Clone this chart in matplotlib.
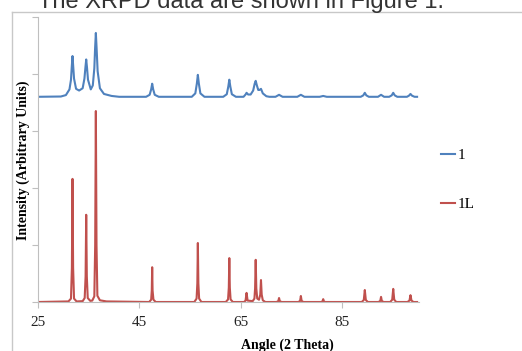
import matplotlib
matplotlib.use("Agg")
import matplotlib.pyplot as plt
from matplotlib.lines import Line2D

# sample 1L (red), vertices
angle_1L = [25.0, 31.0, 31.5, 31.68, 31.8, 31.92, 32.1, 32.6,
            33.8, 34.2, 34.38, 34.5, 34.62, 34.8, 35.3,
            35.7, 36.1, 36.27, 36.4, 36.53, 36.7, 37.2, 38.5,
            46.9, 47.3, 47.42, 47.5, 47.58, 47.75, 48.2,
            55.8, 56.25, 56.4, 56.5, 56.6, 56.75, 57.2,
            62.0, 62.45, 62.6, 62.7, 62.8, 62.95, 63.4,
            65.6, 65.9, 66.1, 66.3, 67.3, 67.65, 67.78, 67.9, 68.02, 68.2,
            68.55, 68.8, 68.94, 69.08, 69.3, 69.8,
            72.0, 72.35, 72.5, 72.65, 73.0,
            76.3, 76.65, 76.8, 76.95, 77.3,
            80.8, 81.05, 81.2, 81.35, 81.6,
            88.8, 89.2, 89.4, 89.6, 90.0,
            92.1, 92.45, 92.6, 92.75, 93.1,
            94.4, 94.8, 95.0, 95.2, 95.6,
            97.8, 98.2, 98.4, 98.6, 99.0, 99.7]
int_1L = [0, 10, 60, 600, 2160, 600, 60, 10,
          15, 70, 450, 1530, 450, 70, 20,
          25, 100, 1000, 3350, 1000, 110, 30, 10,
          0, 40, 200, 610, 200, 40, 0,
          0, 60, 330, 1035, 330, 60, 0,
          0, 45, 250, 770, 250, 45, 0,
          0, 25, 160, 25, 15, 60, 240, 740, 240, 60,
          40, 130, 385, 130, 30, 0,
          0, 15, 70, 15, 0,
          0, 20, 105, 20, 0,
          0, 10, 50, 10, 0,
          0, 35, 210, 35, 0,
          0, 20, 90, 20, 0,
          0, 40, 230, 40, 0,
          0, 25, 120, 25, 0, 0]

# sample 1 (blue), drawn above 1L
offset_1 = 3600
angle_1 = [25.0, 29.5, 30.5, 31.2, 31.5, 31.65, 31.8, 31.95, 32.1, 32.5,
           33.1, 33.8, 34.15, 34.35, 34.5, 34.65, 34.85, 35.4,
           35.8, 36.1, 36.25, 36.4, 36.55, 36.75, 37.2, 38.0, 39.5, 41.0,
           46.3, 47.0, 47.3, 47.5, 47.7, 48.0, 48.8,
           55.3, 56.0, 56.3, 56.5, 56.7, 57.0, 57.8,
           61.5, 62.2, 62.5, 62.7, 62.9, 63.2, 64.0,
           65.5, 65.9, 66.1, 66.4, 66.9, 67.4, 67.7, 67.9, 68.1, 68.4,
           68.65, 68.94, 69.3, 70.0, 70.6,
           71.8, 72.5, 73.2,
           76.1, 76.8, 77.5,
           80.5, 81.2, 81.9,
           88.6, 89.1, 89.4, 89.7, 90.2,
           92.0, 92.6, 93.2,
           94.2, 94.7, 95.0, 95.3, 95.8,
           97.7, 98.1, 98.4, 98.7, 99.2, 99.7]
int_1 = [0, 5, 30, 130, 300, 520, 715, 520, 320, 140,
         110, 150, 320, 520, 655, 520, 300, 130,
         200, 500, 850, 1120, 850, 450, 150, 50, 15, 0,
         0, 35, 130, 230, 130, 35, 0,
         0, 60, 230, 385, 230, 60, 0,
         0, 45, 180, 300, 180, 45, 0,
         0, 40, 70, 40, 40, 110, 230, 280, 210, 120,
         120, 140, 60, 10, 0,
         0, 35, 0,
         0, 35, 0,
         0, 15, 0,
         0, 25, 70, 25, 0,
         0, 35, 0,
         0, 25, 70, 25, 0,
         0, 20, 50, 20, 0, 0]

x_ticks = [25, 45, 65, 85]
blue = "#4F81BD"
red = "#C0504D"
grey = "#BFBFBF"

plt.rcParams["font.family"] = ["Liberation Serif", "DejaVu Serif"]

fig = plt.figure(figsize=(5.22, 3.51), dpi=100)
ax = fig.add_axes([38 / 522, 1 - 302 / 351, (418.6 - 38) / 522, (302 - 17) / 351])

ax.plot(angle_1, [v + offset_1 for v in int_1], color=blue, lw=1.5)
ax.plot(angle_1L, int_1L, color=red, lw=1.5)

ax.set_xlim(25, 100)
ax.set_ylim(0, 5000)
ax.set_xticks(x_ticks)
ax.set_xticklabels([str(t) for t in x_ticks], fontsize=11)
ax.set_yticks(range(0, 5001, 1000))
ax.set_yticklabels([])
ax.tick_params(axis="both", color=grey, length=4, width=0.8, pad=6, labelcolor="#222222")
for s in ("top", "right"):
    ax.spines[s].set_visible(False)
for s in ("left", "bottom"):
    ax.spines[s].set_color(grey)
    ax.spines[s].set_linewidth(0.8)

fig.text(287 / 522, 1 - 345 / 351, "Angle (2 Theta)", ha="center", va="center",
         fontsize=10, fontweight="bold")
fig.text(23 / 522, 1 - 160 / 351, "Intensity (Arbitrary Units)", ha="center", va="center",
         rotation=90, fontsize=10, fontweight="bold")

handles = [Line2D([], [], color=blue, lw=1.5), Line2D([], [], color=red, lw=1.5)]
fig.legend(handles, ["1", "1L"], loc="center left", bbox_to_anchor=(427 / 522, 1 - 180 / 351),
           frameon=False, fontsize=11, handlelength=0.9, handletextpad=0.2, labelspacing=2.3)

# surrounding frame and cut-off caption from the page
fig.add_artist(Line2D([12 / 522, 1], [1 - 12 / 351] * 2, color="#C8C8C8", lw=1))
fig.add_artist(Line2D([12 / 522] * 2, [0, 1 - 12 / 351], color="#C8C8C8", lw=1))
fig.text(38 / 522, 1 - 8 / 351, "The XRPD data are shown in Figure 1.", ha="left", va="baseline",
         fontsize=17, family="Liberation Sans", color="#333333")

fig.savefig("out.png", dpi=100)
